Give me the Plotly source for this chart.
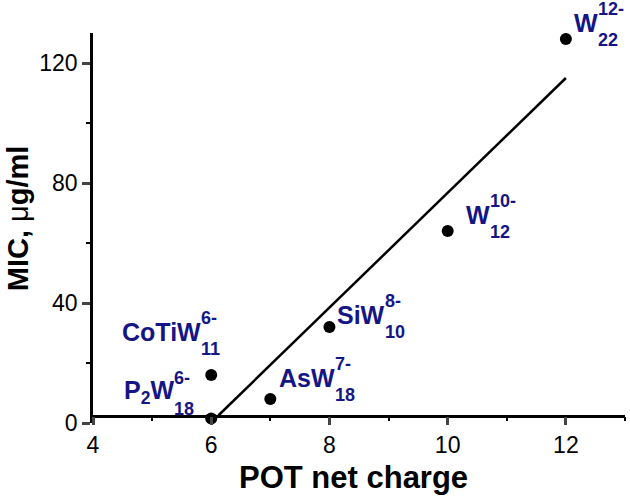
import plotly.graph_objects as go

# ---- data ----
charge = [6, 6, 7, 8, 10, 12]
mic = [1.5, 16, 8, 32, 64, 128]
base_txt = ["P<sub>2</sub>W", "CoTiW", "AsW", "SiW", "W", "W"]
sup_txt = ["6-", "6-", "7-", "8-", "10-", "12-"]
sub_txt = ["18", "11", "18", "10", "12", "22"]
fit_x = [6.12, 12]
fit_y = [2.5, 115]
x_ticks = [4, 6, 8, 10, 12]
y_ticks = [0, 40, 80, 120]

# ---- label layout (pixel offsets from the point: junction dx, base dy; +dy = up) ----
label_off = [
    (-37, 27),
    (-10, 43),
    (65, 21),
    (56, 12),
    (42, 16),
    (32, 16),
]
SUP_DY = 14
SUB_DY = -17

FONT = "Liberation Sans, Arial, sans-serif"
NAVY = "#151585"

fig = go.Figure()
fig.add_trace(go.Scatter(x=fit_x, y=fit_y, mode="lines",
                         line=dict(color="black", width=2.5), cliponaxis=False,
                         showlegend=False, hoverinfo="skip"))
fig.add_trace(go.Scatter(x=charge, y=mic, mode="markers",
                         marker=dict(color="black", size=12), cliponaxis=False,
                         showlegend=False))

ann = []
for xv, yv, b, sp, sb, (dx, dyb) in zip(charge, mic, base_txt, sup_txt, sub_txt, label_off):
    common = dict(x=xv, y=yv, xref="x", yref="y", showarrow=False, yanchor="middle", borderpad=0)
    ann.append(dict(text=f"<b>{b}</b>", xanchor="right", xshift=dx + 1, yshift=dyb,
                    font=dict(family=FONT, size=25, color=NAVY), **common))
    ann.append(dict(text=f"<b>{sp}</b>", xanchor="left", xshift=dx - 1, yshift=dyb + SUP_DY,
                    font=dict(family=FONT, size=18, color=NAVY), **common))
    ann.append(dict(text=f"<b>{sb}</b>", xanchor="left", xshift=dx - 1, yshift=dyb + SUB_DY,
                    font=dict(family=FONT, size=18, color=NAVY), **common))

# axis titles
ann.append(dict(text="<b>POT net charge</b>", x=0.49, y=-0.14, xref="paper", yref="paper",
                xanchor="center", yanchor="middle", showarrow=False,
                font=dict(family=FONT, size=31, color="black")))
ann.append(dict(text="<b>MIC, </b>μ<b>g/ml</b>", x=-0.141, y=0.525, xref="paper", yref="paper",
                xanchor="center", yanchor="middle", showarrow=False, textangle=-90,
                font=dict(family=FONT, size=29, color="black")))

fig.update_layout(
    width=630, height=503,
    margin=dict(l=93, r=5, t=33, b=80),
    plot_bgcolor="white", paper_bgcolor="white",
    annotations=ann,
    xaxis=dict(range=[4, 13], tickvals=x_ticks, ticks="outside", ticklen=8, tickwidth=2.5,
               showline=True, linewidth=2.5, linecolor="black", showgrid=False, zeroline=False,
               anchor="free", position=2.5 / 130,
               tickfont=dict(family=FONT, size=23, color="black"),
               minor=dict(dtick=1, tick0=4, ticks="outside", ticklen=4, tickwidth=2, tickcolor="black")),
    yaxis=dict(range=[0, 130], tickvals=y_ticks, ticks="outside", ticklen=8, tickwidth=2.5,
               showline=True, linewidth=2.5, linecolor="black", showgrid=False, zeroline=False,
               tickfont=dict(family=FONT, size=23, color="black"),
               minor=dict(dtick=20, tick0=0, ticks="outside", ticklen=4, tickwidth=2, tickcolor="black")),
)

fig.write_html("out.html", config={"displayModeBar": False},
               post_script="document.body.style.margin='0';document.body.style.overflow='hidden';")
